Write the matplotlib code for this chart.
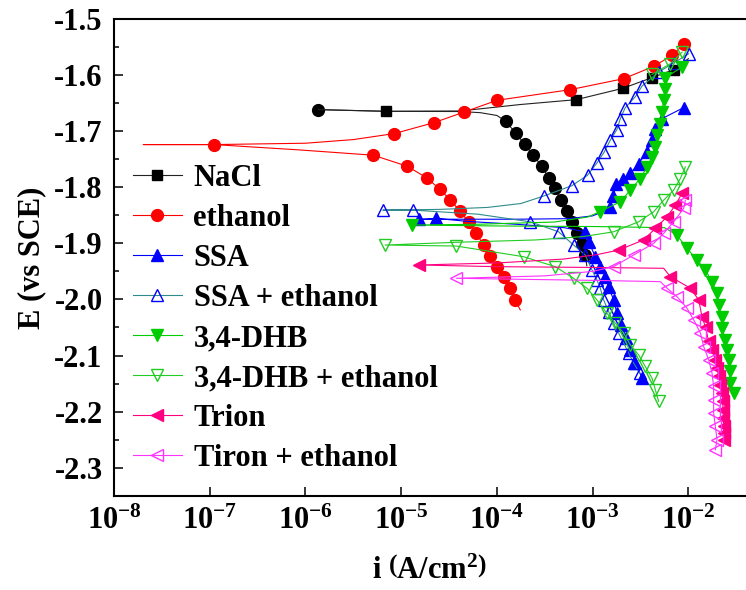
import matplotlib
matplotlib.use("Agg")
import matplotlib.pyplot as plt
import matplotlib.ticker as mticker
import numpy as np

plt.rcParams["font.family"] = "Liberation Serif"
plt.rcParams["font.weight"] = "bold"
plt.rcParams["font.size"] = 22
plt.rcParams["axes.labelweight"] = "bold"
plt.rcParams["axes.unicode_minus"] = False
plt.rcParams["mathtext.fontset"] = "custom"
plt.rcParams["mathtext.rm"] = "Liberation Serif:bold"
plt.rcParams["mathtext.bf"] = "Liberation Serif:bold"
plt.rcParams["mathtext.it"] = "Liberation Serif:bold:italic"

# log10(i / A cm^-2), E (V vs SCE), marker shown (1) or not (0)
# each curve runs from the cathodic end, through E_corr, out along the anodic branch

nacl_cat_logi = [-3.061, -3.077, -3.116, -3.164, -3.216, -3.268, -3.330, -3.398, -3.460, -3.534,
                 -3.623, -3.711, -3.801, -3.910, -4.000, -4.174, -4.383, -5.157, -5.865]
nacl_cat_e = [-1.940, -1.921, -1.901, -1.881, -1.862, -1.842, -1.822, -1.802, -1.783, -1.762,
              -1.742, -1.723, -1.704, -1.682, -1.672, -1.667, -1.665, -1.6646, -1.6616]
nacl_cat_mk = [0, 1, 1, 1, 1, 1, 1, 1, 1, 1, 1, 1, 1, 1, 0, 0, 0, 0, 1]

nacl_an_logi = [-5.865, -5.157, -4.383, -3.756, -3.171, -2.687, -2.380, -2.154, -2.000]
nacl_an_e = [-1.6616, -1.6646, -1.664, -1.6525, -1.6438, -1.6237, -1.6046, -1.5904, -1.5708]
nacl_an_mk = [0, 1, 0, 0, 1, 1, 1, 1, 0]

eth_logi = [-3.756, -3.809, -3.868, -3.931, -4.000, -4.077, -4.140, -4.216, -4.296, -4.388,
            -4.488, -4.599, -4.732, -4.937, -5.290, -6.056, -6.955, -7.694, -6.955, -6.000,
            -5.500, -5.073, -4.655, -4.342, -4.000, -3.234, -2.676, -2.363, -2.171, -2.049]
eth_e = [-2.0187, -2.0009, -1.980, -1.9605, -1.9416, -1.9226, -1.903, -1.8822, -1.8616, -1.8422,
         -1.8224, -1.803, -1.7834, -1.7625, -1.7429, -1.7335, -1.7239, -1.7239, -1.7239, -1.7215,
         -1.715, -1.7043, -1.6847, -1.6658, -1.645, -1.626, -1.6064, -1.5845, -1.565, -1.5454]
eth_mk = [0, 1, 1, 1, 1, 1, 1, 1, 1, 1, 1, 1, 1, 1, 1, 0, 1, 0, 0, 0,
          0, 1, 1, 1, 1, 1, 1, 1, 1, 1]

ssa_logi = [-2.484, -2.554, -2.606, -2.648, -2.700, -2.746, -2.781, -2.833, -2.868, -2.920,
            -2.972, -3.042, -3.077, -3.300, -3.800, -4.300, -4.634, -4.819, -4.500, -3.800,
            -3.250, -3.000, -2.870, -2.816, -2.784, -2.753, -2.680, -2.607, -2.520, -2.432,
            -2.380, -2.345, -2.275, -2.049]
ssa_e = [-2.140, -2.113, -2.090, -2.0685, -2.0454, -2.0246, -2.0009, -1.9772, -1.9594, -1.9416,
         -1.9238, -1.8972, -1.8794, -1.872, -1.866, -1.861, -1.8555, -1.8573, -1.857, -1.857,
         -1.856, -1.851, -1.842, -1.835, -1.815, -1.7945, -1.785, -1.7754, -1.7577, -1.737,
         -1.7162, -1.6954, -1.6776, -1.658]
ssa_mk = [1, 1, 1, 1, 1, 1, 1, 1, 1, 1, 1, 1, 1, 0, 0, 0, 1, 1, 0, 0,
          0, 0, 0, 1, 1, 1, 1, 1, 1, 1, 1, 1, 1, 1]

ssa_eth_logi = [-2.509, -2.572, -2.624, -2.676, -2.729, -2.781, -2.833, -2.885, -2.920, -2.955,
                -3.007, -3.077, -3.199, -3.356, -3.652, -4.200, -4.872, -5.192, -4.600, -4.100,
                -3.750, -3.513, -3.216, -3.053, -2.955, -2.878, -2.816, -2.746, -2.711, -2.659,
                -2.553, -2.484, -2.311, -2.150, -1.997]
ssa_eth_e = [-2.1313, -2.1135, -2.0957, -2.0779, -2.0601, -2.0424, -2.0217, -2.0009, -1.980, -1.9653,
             -1.9475, -1.9208, -1.903, -1.8794, -1.8616, -1.848, -1.8408, -1.8408, -1.8395, -1.836,
             -1.829, -1.8158, -1.7971, -1.7785, -1.7566, -1.737, -1.7162, -1.6972, -1.6776, -1.658,
             -1.6384, -1.6196, -1.5947, -1.578, -1.5619]
ssa_eth_mk = [1, 1, 1, 1, 1, 1, 1, 1, 1, 1, 1, 1, 1, 1, 1, 0, 1, 1, 0, 0,
              0, 1, 1, 1, 1, 1, 1, 1, 1, 1, 1, 1, 1, 1, 1]

dhb_logi = [-1.527, -1.561, -1.568, -1.579, -1.596, -1.613, -1.648, -1.648, -1.683, -1.701,
            -1.753, -1.823, -1.910, -2.014, -2.119, -2.250, -3.000, -4.000, -4.888, -4.200,
            -3.400, -3.050, -2.927, -2.711, -2.607, -2.502, -2.432, -2.380, -2.345, -2.328,
            -2.293, -2.276, -2.258, -2.248, -2.241, -2.067]
dhb_e = [-2.1669, -2.149, -2.1285, -2.1076, -2.090, -2.072, -2.0512, -2.0306, -2.0098, -1.989,
         -1.9683, -1.9475, -1.9297, -1.909, -1.8852, -1.872, -1.870, -1.869, -1.8674, -1.866,
         -1.862, -1.853, -1.8438, -1.826, -1.805, -1.7844, -1.7637, -1.7459, -1.7281, -1.7073,
         -1.6865, -1.6658, -1.645, -1.6242, -1.6046, -1.5858]
dhb_mk = [1, 1, 1, 1, 1, 1, 1, 1, 1, 1, 1, 1, 1, 1, 1, 0, 0, 0, 1, 0,
          0, 0, 1, 1, 1, 1, 1, 1, 1, 1, 1, 1, 1, 1, 1, 1]

dhb_eth_logi = [-2.311, -2.345, -2.380, -2.450, -2.520, -2.607, -2.676, -2.763, -2.851, -2.955,
                -3.059, -3.199, -3.390, -3.722, -4.425, -5.167, -4.400, -3.600, -3.100, -2.781,
                -2.520, -2.363, -2.258, -2.154, -2.084, -2.031]
dhb_eth_e = [-2.1819, -2.161, -2.1402, -2.1196, -2.0988, -2.081, -2.0601, -2.0424, -2.0246, -2.0009,
             -1.980, -1.9623, -1.9416, -1.9238, -1.9048, -1.903, -1.898, -1.894, -1.888, -1.8794,
             -1.8616, -1.8438, -1.823, -1.8052, -1.7844, -1.7637]
dhb_eth_mk = [1, 1, 1, 1, 1, 1, 1, 1, 1, 1, 1, 1, 1, 1, 1, 1, 0, 0, 0, 1,
              1, 1, 1, 1, 1, 1]

# stray 3,4-DHB + ethanol points near the top right
dhb_eth_top_logi = [-2.380, -2.188, -2.066]
dhb_eth_top_e = [-1.5988, -1.5797, -1.5591]
dhb_eth_top_mk = [1, 1, 1]

trion_logi = [-1.624, -1.627, -1.631, -1.634, -1.638, -1.642, -1.648, -1.665, -1.683, -1.700,
              -1.718, -1.750, -1.788, -1.820, -1.858, -1.892, -1.979, -2.188, -2.258, -3.000,
              -4.000, -4.819, -4.000, -3.300, -2.950, -2.729, -2.467, -2.345, -2.223, -2.136,
              -2.067]
trion_e = [-2.250, -2.238, -2.2263, -2.211, -2.1966, -2.182, -2.1669, -2.152, -2.1374, -2.122,
           -2.1076, -2.090, -2.075, -2.050, -2.0306, -2.0009, -1.980, -1.9594, -1.9445, -1.943,
           -1.9416, -1.9386, -1.935, -1.928, -1.920, -1.912, -1.894, -1.8733, -1.8527, -1.8319,
           -1.811]
trion_mk = [1, 1, 1, 1, 1, 1, 1, 1, 1, 1, 1, 1, 1, 1, 1, 1, 1, 1, 0, 0,
            0, 1, 0, 0, 0, 1, 1, 1, 1, 1, 1]

tiron_eth_logi = [-1.718, -1.701, -1.718, -1.736, -1.736, -1.736, -1.753, -1.788, -1.840, -1.874,
                  -1.944, -2.014, -2.119, -2.223, -2.293, -3.000, -3.800, -4.425, -3.500, -3.000,
                  -2.781, -2.572, -2.363, -2.258, -2.154, -2.049, -2.031]
tiron_eth_e = [-2.268, -2.250, -2.2263, -2.2025, -2.1788, -2.1552, -2.1313, -2.1076, -2.084, -2.060,
               -2.0365, -2.0157, -1.995, -1.980, -1.9683, -1.966, -1.964, -1.9623, -1.958, -1.950,
               -1.9416, -1.9208, -1.900, -1.8822, -1.8616, -1.8378, -1.823]
tiron_eth_mk = [1, 1, 1, 1, 1, 1, 1, 1, 1, 1, 1, 1, 1, 1, 0, 0, 0, 1, 0, 0,
                1, 1, 1, 1, 1, 1, 1]

labels = ["NaCl", "ethanol", "SSA", "SSA + ethanol", "3,4-DHB", "3,4-DHB + ethanol",
          "Trion", "Tiron + ethanol"]
x_major = [1e-8, 1e-7, 1e-6, 1e-5, 1e-4, 1e-3, 1e-2]


def draw(ax, logi, e, mk, color, marker, ms, line_color=None, filled=True, label=None):
    idx = [int(k) for k in np.flatnonzero(mk)]
    ax.plot(10.0 ** np.asarray(logi), e, color=line_color or color, lw=0.8,
            marker=marker, markevery=idx, ms=ms,
            mfc=color if filled else "none", mec=color, mew=1.0,
            label=label if label else "_nolegend_")


fig = plt.figure(figsize=(7.46, 5.9), dpi=100)
ax = fig.add_axes([0.1528, 0.1598, 0.8472, 0.8080])

draw(ax, nacl_cat_logi, nacl_cat_e, nacl_cat_mk, "black", "o", 8.5, line_color="#222222")
draw(ax, nacl_an_logi, nacl_an_e, nacl_an_mk, "black", "s", 7, line_color="#222222", label=labels[0])
draw(ax, eth_logi, eth_e, eth_mk, "#FF0000", "o", 8.5, label=labels[1])
draw(ax, ssa_logi, ssa_e, ssa_mk, "#0000FF", "^", 9, label=labels[2])
draw(ax, ssa_eth_logi, ssa_eth_e, ssa_eth_mk, "#0000FF", "^", 9, line_color="#2E8B8B",
     filled=False, label=labels[3])
draw(ax, dhb_logi, dhb_e, dhb_mk, "#00CC00", "v", 9, label=labels[4])
draw(ax, dhb_eth_logi, dhb_eth_e, dhb_eth_mk, "#22CC22", "v", 9, filled=False, label=labels[5])
draw(ax, dhb_eth_top_logi, dhb_eth_top_e, dhb_eth_top_mk, "#22CC22", "v", 9, filled=False)
draw(ax, trion_logi, trion_e, trion_mk, "#FF0080", "<", 9, label=labels[6])
draw(ax, tiron_eth_logi, tiron_eth_e, tiron_eth_mk, "#FF33FF", "<", 9, filled=False, label=labels[7])

ax.set_xscale("log")
ax.set_xlim(1e-8, 0.04)
ax.set_ylim(-2.35, -1.5)
ax.yaxis.set_major_locator(mticker.MultipleLocator(0.1))
ax.yaxis.set_minor_locator(mticker.MultipleLocator(0.05))
ax.yaxis.set_major_formatter(mticker.FormatStrFormatter("%.1f"))
ax.xaxis.set_major_locator(mticker.FixedLocator(x_major))
ax.xaxis.set_major_formatter(mticker.LogFormatterSciNotation())
ax.xaxis.set_minor_locator(mticker.LogLocator(base=10, subs=np.arange(2, 10)))
ax.xaxis.set_minor_formatter(mticker.NullFormatter())

ax.tick_params(which="major", direction="in", length=6.5, width=1.1, top=False, right=False)
ax.tick_params(which="minor", direction="in", length=3.6, width=1.1, top=False, right=False)
ax.tick_params(axis="y", pad=8.2)
ax.tick_params(axis="x", pad=8)
for side in ["left", "bottom", "top"]:
    ax.spines[side].set_linewidth(1.5)
ax.spines["right"].set_visible(False)

ax.set_ylabel("E (vs SCE)")
ax.yaxis.set_label_coords(-0.108, 0.5)
ax.set_xlabel(r"i $\left(\mathbf{A/cm^2}\right)$")
ax.xaxis.set_label_coords(0.5, -0.128)

ax.legend(loc="upper left", bbox_to_anchor=(133 / 746, 1 - 164 / 590), bbox_transform=fig.transFigure,
          frameon=False, borderpad=0, borderaxespad=0, handlelength=1.6, handletextpad=0.38,
          labelspacing=0.36, numpoints=1)

fig.savefig("out.png", dpi=100)
